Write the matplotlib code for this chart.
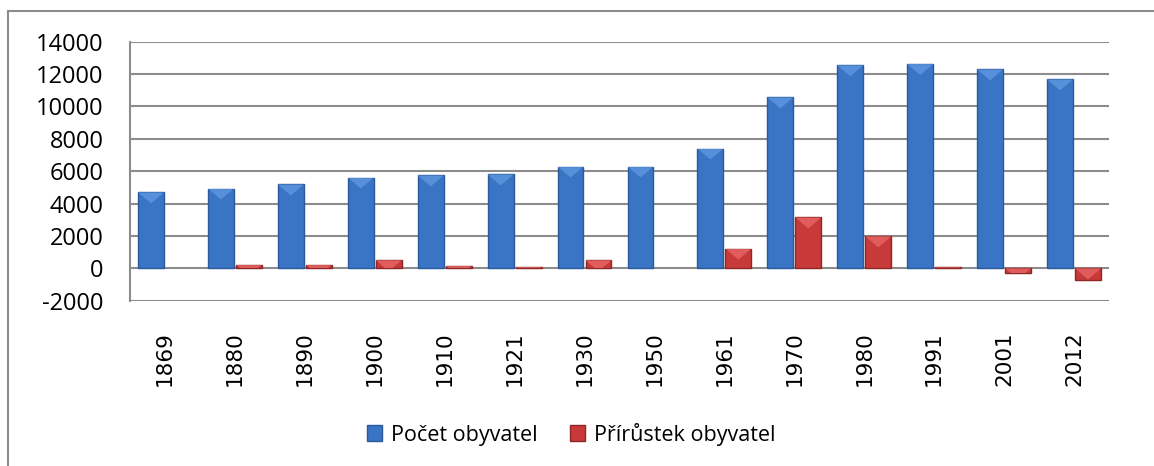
import matplotlib
matplotlib.use("Agg")
import matplotlib.pyplot as plt
import numpy as np
from matplotlib.patches import Polygon, Patch, Rectangle

years = ["1869", "1880", "1890", "1900", "1910", "1921", "1930", "1950",
         "1961", "1970", "1980", "1991", "2001", "2012"]
pocet = [4690, 4930, 5180, 5610, 5740, 5800, 6290, 6290,
         7400, 10560, 12540, 12620, 12290, 11670]
prirustek = [0, 230, 230, 500, 160, 100, 500, 0,
             1220, 3140, 1980, 60, -270, -700]
y_ticks = [-2000, 0, 2000, 4000, 6000, 8000, 10000, 12000, 14000]

W, H, DPI = 1154, 466, 100
fig = plt.figure(figsize=(W / DPI, H / DPI), dpi=DPI)
fig.patch.set_facecolor("white")

# outer chart-area border (left and top edges visible)
fig.add_artist(Rectangle((8 / W, -0.5), 2, 0.5 + 1 - 11 / H, transform=fig.transFigure,
                         fill=False, edgecolor="#8c8c8c", linewidth=1.5))

left, right, top, bottom = 130 / W, 1109 / W, 41.7 / H, 300.7 / H
ax = fig.add_axes([left, 1 - bottom, right - left, bottom - top])

x = np.arange(len(years))
bw = 0.37
off = 0.2
blue, blue_edge, blue_light = "#3a74c4", "#2b5a9c", "#5e98e0"
red, red_edge, red_light = "#c83a3a", "#8f2626", "#e86666"

lw_b = [1.0 if v != 0 else 0 for v in pocet]
lw_r = [1.0 if v != 0 else 0 for v in prirustek]
bars_b = ax.bar(x - off, pocet, bw, color=blue, edgecolor=blue_edge, linewidth=lw_b, zorder=3)
bars_r = ax.bar(x + off, prirustek, bw, color=red, edgecolor=red_edge, linewidth=lw_r, zorder=3)

ax.set_ylim(-2000, 14000)
ax.set_xlim(-0.5, len(years) - 0.5)

# bevel triangle on top of each bar
ax_h_px = (bottom - top) * H
units_per_px = 16000 / ax_h_px
tri_h = 11 * units_per_px
for bars, light in ((bars_b, blue_light), (bars_r, red_light)):
    for b in bars:
        hgt = b.get_height()
        if hgt == 0:
            continue
        x0 = b.get_x()
        x1 = x0 + b.get_width()
        yt = hgt if hgt > 0 else 0
        tri = Polygon([[x0, yt], [x1, yt], [(x0 + x1) / 2, yt - tri_h]],
                      closed=True, facecolor=light, edgecolor="none", alpha=0.8, zorder=4)
        ax.add_patch(tri)
        tri.set_clip_path(b)

ax.set_yticks(y_ticks)
ax.set_yticklabels([str(v) for v in y_ticks], fontfamily="Open Sans", fontsize=17)
ax.set_xticks(x)
ax.set_xticklabels(years, rotation=90, fontfamily="DejaVu Sans", fontsize=15.5)
ax.tick_params(axis="y", length=0, pad=19)
ax.tick_params(axis="x", length=0, pad=22)

ax.yaxis.grid(True, color="#8c8c8c", linewidth=1.5, zorder=0)
ax.set_axisbelow(True)
for s in ("top", "right", "bottom"):
    ax.spines[s].set_visible(False)
ax.spines["left"].set_color("#8c8c8c")
ax.spines["left"].set_linewidth(1.5)

handles = [Patch(facecolor=blue, edgecolor=blue_edge, label="Počet obyvatel"),
           Patch(facecolor=red, edgecolor=red_edge, label="Přírůstek obyvatel")]
fig.legend(handles=handles, loc="center", bbox_to_anchor=(0.495, 1 - 434 / H), ncol=2,
           frameon=False, prop={"family": "Open Sans", "size": 15.5},
           handlelength=0.7, handleheight=0.7, handletextpad=0.4, columnspacing=1.5)

fig.savefig("out.png", dpi=DPI, facecolor="white")
